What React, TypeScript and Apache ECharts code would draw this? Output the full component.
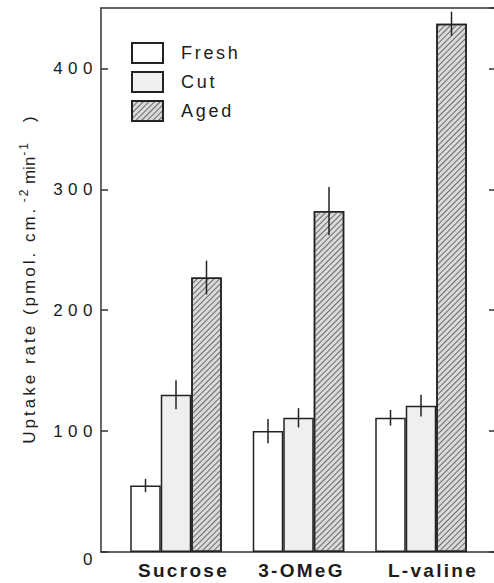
import React, { useEffect, useRef } from "react";
import * as echarts from "echarts";

const CATEGORIES = ["Sucrose", "3-OMeG", "L-valine"];
const SERIES_NAMES = ["Fresh", "Cut", "Aged"];
const FRESH = [55, 100, 111];
const CUT = [130, 111, 121];
const AGED = [227, 282, 437];
const FRESH_ERR = [5.5, 10, 6.5];
const CUT_ERR = [12, 8, 9];
const AGED_ERR = [14, 20, 10];
const Y_MIN = 0;
const Y_MAX = 450;
const Y_INTERVAL = 100;

const FONT = "Liberation Sans";
const INK = "#1c1c1c";
const BAR_W = 30.5;
// left padding of each category label (labels sit a little right of their group)
const LABEL_SHIFT = [15, 6, 24];

// letter spacing applied to the svg text afterwards
const SPACING: Record<string, number> = {
  "Uptake rate (pmol. cm.": 3,
  "-2": 2,
  "-1": 2,
  Sucrose: 2.3,
  "3-OMeG": 2.3,
  "L-valine": 2.3,
  Fresh: 2.7,
  Cut: 2.7,
  Aged: 2.7,
};
const TICK_SPACING = 5.5;

function applySpacing(root: HTMLElement) {
  root.querySelectorAll("text").forEach((t) => {
    const s = (t.textContent || "").trim();
    let v: number | undefined = SPACING[s];
    if (v == null && /^\d+$/.test(s)) v = TICK_SPACING;
    if (v != null) t.setAttribute("letter-spacing", String(v));
  });
}

export default function App() {
  const ref = useRef<HTMLDivElement>(null);

  useEffect(() => {
    if (!ref.current) return;
    const chart = echarts.init(ref.current, undefined, { renderer: "svg" });

    const values = [FRESH, CUT, AGED];
    const errs = [FRESH_ERR, CUT_ERR, AGED_ERR];
    const errData: number[][] = [];
    for (let s = 0; s < 3; s++) {
      for (let c = 0; c < CATEGORIES.length; c++) {
        errData.push([c, s, values[s][c] - errs[s][c], values[s][c] + errs[s][c]]);
      }
    }

    const barBase = {
      type: "bar",
      xAxisIndex: 0,
      yAxisIndex: 0,
      barWidth: BAR_W,
      barGap: "0%",
      z: 2,
    };

    const aSpacing = 3 * 22;

    const xRich: Record<string, any> = {};
    LABEL_SHIFT.forEach((p, i) => {
      xRich["x" + i] = {
        fontFamily: FONT,
        fontSize: 19,
        fontWeight: "bold",
        color: INK,
        padding: [0, 0, 0, p],
      };
    });

    const frameLine = { show: true, onZero: false, lineStyle: { color: "#333", width: 1.5 } };

    const option: any = {
      animation: false,
      textStyle: { fontFamily: FONT, color: INK },
      grid: [
        { left: 114.75, width: 367.5, top: 8, height: 544, containLabel: false },
        { left: 101, width: 393, top: 8, height: 544, containLabel: false },
      ],
      legend: {
        data: SERIES_NAMES,
        orient: "vertical",
        left: 131,
        top: 42,
        padding: 0,
        itemWidth: 31,
        itemHeight: 20,
        itemGap: 7,
        icon: "rect",
        selectedMode: false,
        textStyle: {
          fontFamily: FONT,
          fontSize: 18,
          color: INK,
          padding: [0, 0, 0, 13],
        },
      },
      xAxis: [
        {
          type: "category",
          gridIndex: 0,
          data: CATEGORIES,
          position: "bottom",
          axisLine: { show: false, onZero: false },
          axisTick: { show: false },
          axisLabel: {
            interval: 0,
            hideOverlap: false,
            margin: 9,
            fontFamily: FONT,
            fontSize: 19,
            fontWeight: "bold",
            color: INK,
            formatter: (v: string, i: number) => `{x${i}|${v}}`,
            rich: xRich,
          },
          splitLine: { show: false },
        },
        {
          type: "value",
          gridIndex: 1,
          min: 0,
          max: 1,
          position: "bottom",
          axisLine: frameLine,
          axisTick: { show: false },
          axisLabel: { show: false },
          splitLine: { show: false },
        },
        {
          type: "value",
          gridIndex: 1,
          min: 0,
          max: 1,
          position: "top",
          axisLine: frameLine,
          axisTick: { show: false },
          axisLabel: { show: false },
          splitLine: { show: false },
        },
      ],
      yAxis: [
        {
          type: "value",
          gridIndex: 0,
          min: Y_MIN,
          max: Y_MAX,
          interval: Y_INTERVAL,
          show: false,
          axisLine: { onZero: false },
          splitLine: { show: false },
        },
        {
          type: "value",
          gridIndex: 1,
          min: Y_MIN,
          max: Y_MAX,
          interval: Y_INTERVAL,
          position: "left",
          axisLine: frameLine,
          axisTick: {
            show: true,
            inside: true,
            length: 7,
            lineStyle: { color: "#333", width: 1.5 },
          },
          axisLabel: {
            margin: 3,
            fontFamily: FONT,
            fontSize: 17,
            color: INK,
            showMaxLabel: false,
            formatter: (v: number) => (v === 0 ? "{z|0}" : String(v)),
            rich: {
              z: {
                fontFamily: FONT,
                fontSize: 17,
                color: INK,
                padding: [14, 0, 0, 0],
              },
            },
          },
          splitLine: { show: false },
          name: "{a|Uptake rate (pmol. cm.}{s|-2}{b|min}{s2|-1}{c|)}",
          nameLocation: "middle",
          nameGap: 63,
          nameTextStyle: {
            fontFamily: FONT,
            color: INK,
            rich: {
              a: {
                align: "left",
                fontFamily: FONT,
                fontSize: 17,
                color: INK,
                lineHeight: 20,
                verticalAlign: "bottom",
                padding: [6, aSpacing, 0, 0],
              },
              s: {
                align: "left",
                fontFamily: FONT,
                fontSize: 12,
                color: INK,
                lineHeight: 12,
                verticalAlign: "top",
                padding: [0, 7.5, 0, 3.5],
              },
              b: {
                align: "left",
                fontFamily: FONT,
                fontSize: 17,
                color: INK,
                lineHeight: 20,
                verticalAlign: "bottom",
                padding: [6, 0, 0, 0],
              },
              s2: {
                align: "left",
                fontFamily: FONT,
                fontSize: 12,
                color: INK,
                lineHeight: 12,
                verticalAlign: "top",
                padding: [0, 5, 0, 1],
              },
              c: {
                align: "left",
                fontFamily: FONT,
                fontSize: 17,
                color: INK,
                lineHeight: 20,
                verticalAlign: "bottom",
                padding: [6, 0, 0, 18],
              },
            },
          },
        },
        {
          type: "value",
          gridIndex: 1,
          min: Y_MIN,
          max: Y_MAX,
          interval: Y_INTERVAL,
          position: "right",
          axisLine: { show: false, onZero: false },
          axisTick: {
            show: true,
            inside: true,
            length: 5,
            lineStyle: { color: "#333", width: 1.5 },
          },
          axisLabel: { show: false },
          splitLine: { show: false },
        },
      ],
      series: [
        {
          ...barBase,
          name: "Fresh",
          data: FRESH,
          itemStyle: { color: "#ffffff", borderColor: "#222", borderWidth: 1.5 },
        },
        {
          ...barBase,
          name: "Cut",
          data: CUT,
          itemStyle: { color: "#efefef", borderColor: "#222", borderWidth: 1.5 },
        },
        {
          ...barBase,
          name: "Aged",
          data: AGED,
          itemStyle: {
            color: "#dadada",
            borderColor: "#222",
            borderWidth: 1.5,
            decal: {
              symbol: "rect",
              symbolSize: 1,
              dashArrayX: [1, 0],
              dashArrayY: [1, 2.5],
              rotation: -Math.PI / 4,
              color: "#6a6a6a",
            },
          },
        },
        {
          type: "custom",
          name: "err",
          xAxisIndex: 0,
          yAxisIndex: 0,
          z: 5,
          encode: { x: 0, y: [2, 3] },
          data: errData,
          renderItem: (params: any, api: any) => {
            const cat = api.value(0);
            const s = api.value(1);
            const lo = api.coord([cat, api.value(2)]);
            const hi = api.coord([cat, api.value(3)]);
            const x = lo[0] + (s - 1) * BAR_W;
            return {
              type: "line",
              shape: { x1: x, y1: lo[1], x2: x, y2: hi[1] },
              style: { stroke: "#222", lineWidth: 1.5 },
            };
          },
        },
      ],
    };

    chart.setOption(option);
    const el = ref.current;
    applySpacing(el);
    chart.on("finished", () => applySpacing(el));
    return () => {
      chart.dispose();
    };
  }, []);

  return (
    <div
      ref={ref}
      style={{ position: "absolute", left: 0, top: 0, width: 494, height: 583 }}
    />
  );
}
